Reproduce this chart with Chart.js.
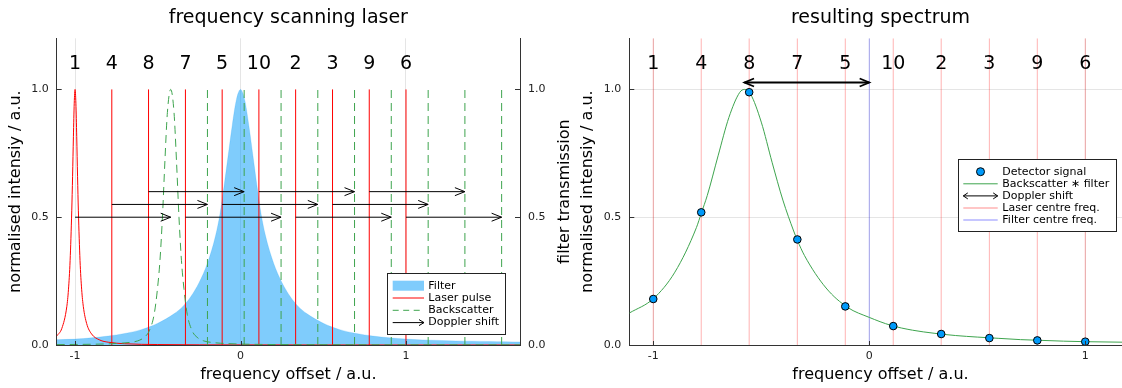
<!DOCTYPE html>
<html>
<head>
<meta charset="utf-8">
<script src="https://cdn.jsdelivr.net/npm/chart.js@4/dist/chart.umd.min.js"></script>
<style>
  html, body { margin: 0; padding: 0; background: #fff; overflow: hidden; width: 1122px; height: 388px; }
  canvas { position: absolute; top: 0; }
  #laser { left: 0; }
  #spectrum { left: 560px; }
</style>
</head>
<body>
<canvas id="laser" width="580" height="388"></canvas>
<canvas id="spectrum" width="580" height="388"></canvas>
<script>
// ---- laser scan: centre frequencies in firing order, and their labels
const laserFreq = [-1, -0.778, -0.556, -0.333, -0.111, 0.111, 0.333, 0.556, 0.778, 1];
const shotNumber = ['1', '4', '8', '7', '5', '10', '2', '3', '9', '6'];
// Doppler shifted backscatter position for each shot and the arrow row it is drawn on
const backscatterFreq = [-0.422, -0.2, 0.022, 0.245, 0.467, 0.689, 0.911, 1.134, 1.356, 1.578];
const arrowLevel = [0.5, 0.55, 0.6, 0.5, 0.55, 0.6, 0.5, 0.55, 0.6, 0.5];

// filter transmission profile
const filterX = [-1.111, -1.0, -0.9, -0.8, -0.7, -0.6, -0.5, -0.4, -0.35, -0.3, -0.25, -0.2, -0.15, -0.125, -0.1, -0.075, -0.05, -0.025, 0,
                 0.025, 0.05, 0.075, 0.1, 0.125, 0.15, 0.2, 0.25, 0.3, 0.35, 0.4, 0.5, 0.6, 0.7, 0.8, 0.9, 1.0, 1.1, 1.2, 1.3, 1.4, 1.5, 1.6, 1.689];
const filterY = [0.021, 0.023, 0.028, 0.035, 0.045, 0.060, 0.085, 0.123, 0.15, 0.19, 0.245, 0.32, 0.43, 0.51, 0.62, 0.74, 0.86, 0.96, 1.0,
                 0.96, 0.86, 0.74, 0.62, 0.51, 0.43, 0.32, 0.245, 0.19, 0.15, 0.123, 0.085, 0.060, 0.045, 0.035, 0.028, 0.023, 0.020, 0.018, 0.016, 0.015, 0.014, 0.013, 0.012];

// first laser pulse line shape
const pulseX = [-1.111, -1.08, -1.05, -1.04, -1.03, -1.02, -1.015, -1.01, -1.005, -1, -0.995, -0.99, -0.985, -0.98, -0.97, -0.96, -0.95, -0.93, -0.9, -0.85, -0.8, -0.7, -0.5, 0, 0.5, 1.0, 1.689];
const pulseY = [0.035, 0.065, 0.15, 0.216, 0.33, 0.525, 0.66, 0.815, 0.946, 1.0, 0.946, 0.815, 0.66, 0.525, 0.33, 0.216, 0.15, 0.084, 0.043, 0.0193, 0.011, 0.0049, 0.0018, 0.0004, 0.0002, 0.0001, 0.0001];

// backscatter of the first pulse
const backscatterX = [-1.111, -0.822, -0.722, -0.672, -0.622, -0.582, -0.552, -0.522, -0.502, -0.487, -0.472, -0.457, -0.442, -0.422,
                      -0.402, -0.387, -0.372, -0.357, -0.342, -0.322, -0.292, -0.262, -0.222, -0.172, -0.122, -0.022, 0.178, 0.6, 1.689];
const backscatterY = [0.0015, 0.004, 0.007, 0.01, 0.016, 0.03, 0.055, 0.12, 0.22, 0.33, 0.5, 0.72, 0.91, 1.0,
                      0.91, 0.72, 0.5, 0.33, 0.22, 0.12, 0.055, 0.03, 0.016, 0.01, 0.007, 0.004, 0.002, 0.001, 0.0005];

// ---- resulting spectrum
const detectorSignal = [0.18, 0.519, 0.989, 0.413, 0.151, 0.074, 0.043, 0.027, 0.018, 0.013];
const spectrumX = [-1.111, -1.0, -0.9, -0.8, -0.778, -0.75, -0.7, -0.65, -0.6, -0.578, -0.55, -0.5, -0.45, -0.4, -0.35, -0.333, -0.3, -0.2, -0.1,
                   0, 0.1, 0.2, 0.3, 0.4, 0.5, 0.6, 0.7, 0.8, 0.9, 1.0, 1.215];
const spectrumY = [0.125, 0.181, 0.285, 0.46, 0.515, 0.585, 0.74, 0.89, 0.988, 1.0, 0.982, 0.872, 0.715, 0.567, 0.446, 0.41, 0.35, 0.223, 0.147,
                   0.108, 0.077, 0.058, 0.046, 0.037, 0.031, 0.026, 0.021, 0.018, 0.015, 0.013, 0.0105];
const filterCentre = [0];
const dopplerSpan = [-0.578, 0];
const dopplerLevel = 1.027;

// ---- axes
const laserRange = [-1.111, 1.689];
const spectrumRange = [-1.111, 1.215];
const yRange = [0, 1.2];
const xTicks = [-1, 0, 1];
const xTickText = ['-1', '0', '1'];
const yTicks = [0, 0.5, 1];
const yTickText = ['0.0', '0.5', '1.0'];
const labelLevel = 1.1;

const FONT = "'DejaVu Sans', 'Liberation Sans', sans-serif";
const GREEN = '#3ea44e';
const BLUE = '#009afa';
const FILTER_FILL = 'rgba(0,154,250,0.5)';
const PINK = 'rgba(255,0,0,0.3)';
const LILAC = 'rgba(0,0,255,0.3)';
const AXIS = '#333';
const GRID = 'rgba(0,0,0,0.1)';

Chart.defaults.font.family = FONT;
Chart.defaults.color = '#222';

function pts(xs, ys) { return xs.map((x, i) => ({ x: x, y: ys[i] })); }
function stems(xs, lo, hi) {
  const d = [];
  xs.forEach(x => d.push({ x: x, y: lo }, { x: x, y: hi }, { x: x, y: null }));
  return d;
}
function spans(from, to, level) {
  const d = [];
  from.forEach((f, i) => d.push({ x: f, y: level[i] }, { x: to[i], y: level[i] }, { x: to[i], y: null }));
  return d;
}

function xAxis(range, size) {
  return {
    type: 'linear', position: 'bottom', min: range[0], max: range[1],
    afterBuildTicks: s => { s.ticks = xTicks.map(v => ({ value: v })); },
    afterFit: s => { s.height = size; },
    ticks: { callback: (v, i) => xTickText[i], font: { size: 11 }, color: '#222', padding: 5, maxRotation: 0, autoSkip: false },
    grid: { display: true, color: GRID, drawTicks: false },
    border: { display: true, color: AXIS, width: 1 },
    title: { display: true, text: 'frequency offset / a.u.', font: { size: 16 }, color: '#000', padding: { top: 0, bottom: 3.4 } }
  };
}
function yAxis(pos, width, showGrid, titleText, titlePad) {
  return {
    type: 'linear', position: pos, min: yRange[0], max: yRange[1],
    afterBuildTicks: s => { s.ticks = yTicks.map(v => ({ value: v })); },
    afterFit: s => { s.width = width; },
    ticks: { callback: (v, i) => yTickText[i], font: { size: 11 }, color: '#222', padding: 8 },
    grid: { display: showGrid, color: GRID, drawTicks: false },
    border: { display: true, color: AXIS, width: 1 },
    title: { display: !!titleText, text: titleText || '', font: { size: 16 }, color: '#000', padding: { top: titlePad, bottom: 0 } }
  };
}

function arrowHead(ctx, x, y, dir, len, half) {
  ctx.beginPath();
  ctx.moveTo(x - dir * len, y - half);
  ctx.lineTo(x, y);
  ctx.lineTo(x - dir * len, y + half);
  ctx.stroke();
}

// short tick marks pointing into the plot area
function drawInwardTicks(chart, ids) {
  const { ctx, chartArea: a } = chart;
  ctx.save();
  ctx.strokeStyle = AXIS;
  ctx.lineWidth = 1;
  ctx.beginPath();
  xTicks.forEach(v => {
    const px = Math.round(chart.scales.x.getPixelForValue(v)) + 0.5;
    ctx.moveTo(px, a.bottom); ctx.lineTo(px, a.bottom - 4);
  });
  ids.forEach(id => {
    const s = chart.scales[id];
    yTicks.forEach(v => {
      const py = Math.round(s.getPixelForValue(v)) + 0.5;
      if (s.position === 'left') { ctx.moveTo(a.left, py); ctx.lineTo(a.left + 5, py); }
      else { ctx.moveTo(a.right, py); ctx.lineTo(a.right - 5, py); }
    });
  });
  ctx.stroke();
  ctx.restore();
}

function drawShotNumbers(chart) {
  const { ctx } = chart;
  ctx.save();
  ctx.font = '19px ' + FONT;
  ctx.fillStyle = '#000';
  ctx.textAlign = 'center';
  ctx.textBaseline = 'middle';
  const py = chart.scales.y.getPixelForValue(labelLevel);
  laserFreq.forEach((f, i) => ctx.fillText(shotNumber[i], chart.scales.x.getPixelForValue(f), py));
  ctx.restore();
}

function drawLegend(chart, L) {
  const { ctx, chartArea: a } = chart;
  const x0 = a.right - L.right - L.width;
  const y0 = a.top + L.top;
  ctx.save();
  ctx.fillStyle = '#fff';
  ctx.fillRect(x0, y0, L.width, L.height);
  ctx.strokeStyle = '#222';
  ctx.lineWidth = 1;
  ctx.strokeRect(Math.round(x0) + 0.5, Math.round(y0) + 0.5, Math.round(L.width), Math.round(L.height));
  ctx.font = '11px ' + FONT;
  ctx.textBaseline = 'middle';
  ctx.textAlign = 'left';
  L.items.forEach((it, i) => {
    const cy = y0 + L.first + i * L.step;
    const s0 = x0 + L.symLeft, s1 = x0 + L.symRight;
    ctx.save();
    ctx.lineWidth = 1;
    if (it.kind === 'fill') {
      ctx.fillStyle = it.color;
      ctx.fillRect(s0, cy - 5, s1 - s0, 10);
    } else if (it.kind === 'marker') {
      ctx.beginPath();
      ctx.arc((s0 + s1) / 2, cy, 4, 0, Math.PI * 2);
      ctx.fillStyle = BLUE; ctx.fill();
      ctx.strokeStyle = '#000'; ctx.stroke();
    } else {
      ctx.strokeStyle = it.color;
      if (it.kind === 'dash') ctx.setLineDash([6, 4.5]);
      if (it.width) ctx.lineWidth = it.width;
      ctx.beginPath(); ctx.moveTo(s0, cy); ctx.lineTo(s1, cy); ctx.stroke();
      ctx.setLineDash([]);
      if (it.kind === 'arrow') arrowHead(ctx, s1, cy, 1, 5, 3);
      if (it.kind === 'darrow') { arrowHead(ctx, s1, cy, 1, 4.5, 3); arrowHead(ctx, s0, cy, -1, 4.5, 3); }
    }
    ctx.restore();
    ctx.fillStyle = '#000';
    ctx.fillText(it.text, x0 + L.textLeft, cy);
  });
  ctx.restore();
}

const laserLegend = {
  width: 117.7, height: 60.7, right: 15, top: 235, first: 12.4, step: 12.3, symLeft: 5.4, symRight: 36.7, textLeft: 41,
  items: [
    { text: 'Filter', kind: 'fill', color: FILTER_FILL },
    { text: 'Laser pulse', kind: 'line', color: '#ff0000' },
    { text: 'Backscatter', kind: 'dash', color: GREEN },
    { text: 'Doppler shift', kind: 'arrow', color: '#000' }
  ]
};
const spectrumLegend = {
  width: 158.4, height: 72.4, right: 15, top: 121, first: 12.4, step: 12.1, symLeft: 5, symRight: 39.4, textLeft: 44,
  items: [
    { text: 'Detector signal', kind: 'marker' },
    { text: 'Backscatter \u2217 filter', kind: 'line', color: GREEN },
    { text: 'Doppler shift', kind: 'darrow', color: '#000' },
    { text: 'Laser centre freq.', kind: 'line', color: PINK, width: 1.5 },
    { text: 'Filter centre freq.', kind: 'line', color: LILAC, width: 1.5 }
  ]
};

const laserDecor = {
  id: 'laserDecor',
  afterDatasetsDraw(chart) {
    const { ctx, scales } = chart;
    ctx.save();
    ctx.strokeStyle = '#000';
    ctx.lineWidth = 1;
    backscatterFreq.forEach((f, i) => {
      arrowHead(ctx, scales.x.getPixelForValue(f), scales.y.getPixelForValue(arrowLevel[i]), 1, 10, 4);
    });
    ctx.restore();
    drawShotNumbers(chart);
    drawInwardTicks(chart, ['y', 'y2']);
    // title of the right-hand axis, reading upwards
    const a = chart.chartArea;
    ctx.save();
    ctx.translate(565, (a.top + a.bottom) / 2);
    ctx.rotate(-Math.PI / 2);
    ctx.font = '16px ' + FONT;
    ctx.fillStyle = '#000';
    ctx.textAlign = 'center';
    ctx.textBaseline = 'middle';
    ctx.fillText('filter transmission', 0, 0);
    ctx.restore();
  },
  afterDraw(chart) { drawLegend(chart, laserLegend); }
};

const spectrumDecor = {
  id: 'spectrumDecor',
  afterDatasetsDraw(chart) {
    const { ctx, scales } = chart;
    ctx.save();
    ctx.strokeStyle = '#000';
    ctx.lineWidth = 1.8;
    const py = scales.y.getPixelForValue(dopplerLevel);
    arrowHead(ctx, scales.x.getPixelForValue(dopplerSpan[1]), py, 1, 9.6, 4);
    arrowHead(ctx, scales.x.getPixelForValue(dopplerSpan[0]), py, -1, 9.6, 4);
    ctx.restore();
    drawShotNumbers(chart);
    drawInwardTicks(chart, ['y']);
  },
  afterDraw(chart) { drawLegend(chart, spectrumLegend); }
};

const common = {
  responsive: false,
  animation: false,
  devicePixelRatio: 1,
  events: [],
  elements: { point: { radius: 0 } }
};

const titleFont = { size: 19, weight: 'normal' };

new Chart(document.getElementById('laser'), {
  type: 'scatter',
  data: {
    datasets: [
      { label: 'Doppler shift', data: spans(laserFreq, backscatterFreq, arrowLevel), showLine: true, spanGaps: false,
        borderColor: '#000', borderWidth: 1, pointRadius: 0 },
      { label: 'Backscatter', data: pts(backscatterX, backscatterY), showLine: true, borderColor: GREEN, borderWidth: 1,
        borderDash: [8, 5], pointRadius: 0, cubicInterpolationMode: 'monotone' },
      { label: 'Backscatter (shifted shots)', data: stems(backscatterFreq.slice(1), 0, 1), showLine: true, spanGaps: false,
        borderColor: GREEN, borderWidth: 1, borderDash: [8, 5], pointRadius: 0 },
      { label: 'Laser pulse', data: pts(pulseX, pulseY), showLine: true, borderColor: '#ff0000', borderWidth: 1,
        pointRadius: 0, cubicInterpolationMode: 'monotone' },
      { label: 'Laser pulse (later shots)', data: stems(laserFreq.slice(1), 0, 1), showLine: true, spanGaps: false,
        borderColor: '#ff0000', borderWidth: 1, pointRadius: 0 },
      { label: 'Filter', data: pts(filterX, filterY), yAxisID: 'y2', showLine: true, fill: 'origin',
        backgroundColor: FILTER_FILL, borderColor: 'rgba(0,154,250,0.35)', borderWidth: 0.5, pointRadius: 0,
        cubicInterpolationMode: 'monotone' }
    ]
  },
  options: Object.assign({}, common, {
    layout: { padding: { left: 0, right: 0, top: 0, bottom: 0 } },
    scales: {
      x: xAxis(laserRange, 43),
      y: yAxis('left', 56.7, false, 'normalised intensiy / a.u.', 6),
      y2: yAxis('right', 60, false, null, 0)
    },
    plugins: {
      legend: { display: false },
      tooltip: { enabled: false },
      title: { display: true, fullSize: false, text: 'frequency scanning laser', font: titleFont, color: '#000',
               padding: { top: 6.6, bottom: 8.9 } }
    }
  }),
  plugins: [laserDecor]
});

new Chart(document.getElementById('spectrum'), {
  type: 'scatter',
  data: {
    datasets: [
      { label: 'Detector signal', data: pts(laserFreq, detectorSignal), pointRadius: 3.8, pointBorderWidth: 1,
        pointBackgroundColor: BLUE, pointBorderColor: '#000', showLine: false },
      { label: 'Doppler shift', data: pts(dopplerSpan, [dopplerLevel, dopplerLevel]), showLine: true,
        borderColor: '#000', borderWidth: 1.8, pointRadius: 0 },
      { label: 'Backscatter \u2217 filter', data: pts(spectrumX, spectrumY), showLine: true, borderColor: GREEN,
        borderWidth: 1, pointRadius: 0, cubicInterpolationMode: 'monotone' },
      { label: 'Filter centre freq.', data: stems(filterCentre, yRange[0], yRange[1]), showLine: true, spanGaps: false,
        borderColor: LILAC, borderWidth: 1, pointRadius: 0 },
      { label: 'Laser centre freq.', data: stems(laserFreq, yRange[0], yRange[1]), showLine: true, spanGaps: false,
        borderColor: PINK, borderWidth: 1, pointRadius: 0 }
    ]
  },
  options: Object.assign({}, common, {
    layout: { padding: { left: 0, right: 8.3, top: 0, bottom: 0 } },
    scales: {
      x: xAxis(spectrumRange, 43),
      y: yAxis('left', 69.3, true, 'normalised intensiy / a.u.', 18)
    },
    plugins: {
      legend: { display: false },
      tooltip: { enabled: false },
      title: { display: true, fullSize: false, text: 'resulting spectrum', font: titleFont, color: '#000',
               padding: { top: 6.6, bottom: 8.9 } }
    }
  }),
  plugins: [spectrumDecor]
});
</script>
</body>
</html>
